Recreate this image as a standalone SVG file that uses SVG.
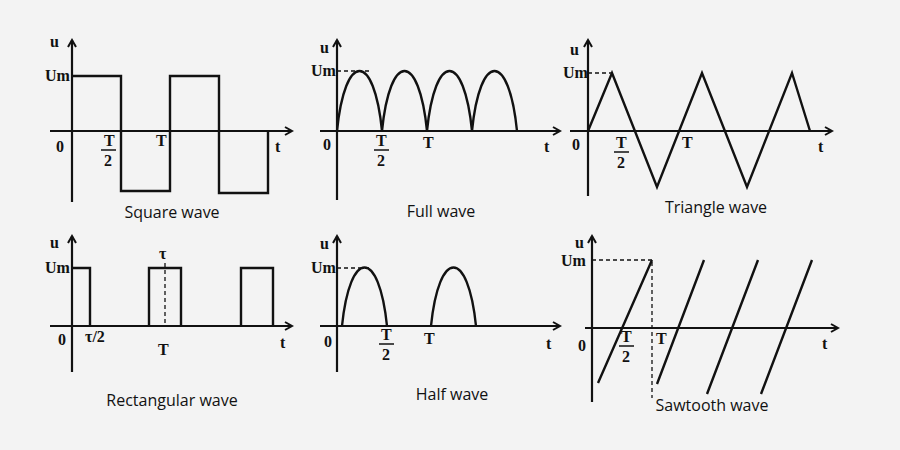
<svg xmlns="http://www.w3.org/2000/svg" width="900" height="450" viewBox="0 0 900 450">
<style>
.ax{stroke:#111;stroke-width:2.2;fill:none}
.w{stroke:#111;stroke-width:2.4;fill:none;stroke-linejoin:miter}
.d{stroke:#111;stroke-width:1.3;fill:none;stroke-dasharray:4 3}
.l{font-family:"Liberation Serif",serif;font-weight:bold;font-size:16px;fill:#111}
.c{font-family:"Open Sans","Noto Sans",sans-serif;font-size:16px;fill:#111;text-anchor:middle}
.fr{stroke:#111;stroke-width:1.5}
</style>
<defs><marker id="ar" markerWidth="10" markerHeight="10" refX="8" refY="5" orient="auto" markerUnits="userSpaceOnUse"><path d="M1,1 L8,5 L1,9" fill="none" stroke="#111" stroke-width="2"/></marker></defs>
<rect width="900" height="450" fill="#f3f3f3"/>
<g id="square">
<path class="ax" d="M72,202 V40" marker-end="url(#ar)"/><path class="ax" d="M50,131 H292" marker-end="url(#ar)"/>
<path class="w" d="M72,76 H121 V191 H170 V76 H219 V193 H268 V131"/>
<text class="l" x="50" y="47">u</text><text class="l" x="45" y="81">Um</text><text class="l" x="56" y="152">0</text>
<text class="l" x="104" y="146">T</text><line class="fr" x1="101" y1="150" x2="116" y2="150"/><text class="l" x="104" y="166">2</text>
<text class="l" x="156" y="146">T</text><text class="l" x="275" y="152">t</text>
<text class="c" x="172" y="218">Square wave</text>
</g>
<g id="full">
<path class="ax" d="M337,200 V40" marker-end="url(#ar)"/><path class="ax" d="M320,131 H560" marker-end="url(#ar)"/>
<path class="d" d="M337,71 H372"/>
<path class="w" d="M337,131 C345,51 374,51 382,131 C390,51 419,51 427,131 C435,51 464,51 472,131 C480,51 509,51 517,131"/>
<text class="l" x="320" y="53">u</text><text class="l" x="311" y="76">Um</text><text class="l" x="323" y="150">0</text>
<text class="l" x="376" y="146">T</text><line class="fr" x1="374" y1="150" x2="389" y2="150"/><text class="l" x="377" y="166">2</text>
<text class="l" x="423" y="148">T</text><text class="l" x="544" y="152">t</text>
<text class="c" x="441" y="217">Full wave</text>
</g>
<g id="triangle">
<path class="ax" d="M588,196 V40" marker-end="url(#ar)"/><path class="ax" d="M570,131 H832" marker-end="url(#ar)"/>
<path class="d" d="M588,73 H612"/>
<path class="w" d="M588,131 L612,73 L657,187 L702,73 L747,187 L792,73 L810,131"/>
<text class="l" x="570" y="55">u</text><text class="l" x="563" y="78">Um</text><text class="l" x="572" y="150">0</text>
<text class="l" x="616" y="148">T</text><line class="fr" x1="614" y1="152" x2="629" y2="152"/><text class="l" x="617" y="168">2</text>
<text class="l" x="682" y="148">T</text><text class="l" x="818" y="152">t</text>
<text class="c" x="716" y="213">Triangle wave</text>
</g>
<g id="rect">
<path class="ax" d="M72,372 V236" marker-end="url(#ar)"/><path class="ax" d="M50,326 H292" marker-end="url(#ar)"/>
<path class="w" d="M72,268 H90 V326 M149,326 V268 H181 V326 M241,326 V268 H273 V326"/>
<path class="d" d="M165,263 V326"/>
<text class="l" x="50" y="248">u</text><text class="l" x="45" y="273">Um</text><text class="l" x="58" y="345">0</text>
<text class="l" x="159" y="259">τ</text><text class="l" x="85" y="342">τ/2</text>
<text class="l" x="158" y="355">T</text><text class="l" x="280" y="348">t</text>
<text class="c" x="172" y="406">Rectangular wave</text>
</g>
<g id="half">
<path class="ax" d="M337,372 V236" marker-end="url(#ar)"/><path class="ax" d="M320,326 H560" marker-end="url(#ar)"/>
<path class="d" d="M337,268 H372"/>
<path class="w" d="M342,326 C350,248 379,248 387,326 M431,326 C439,248 468,248 476,326"/>
<text class="l" x="320" y="249">u</text><text class="l" x="311" y="273">Um</text><text class="l" x="324" y="347">0</text>
<text class="l" x="381" y="340">T</text><line class="fr" x1="379" y1="344" x2="394" y2="344"/><text class="l" x="382" y="360">2</text>
<text class="l" x="424" y="344">T</text><text class="l" x="546" y="349">t</text>
<text class="c" x="452" y="400">Half wave</text>
</g>
<g id="sawtooth">
<path class="ax" d="M592,402 V236" marker-end="url(#ar)"/><path class="ax" d="M585,328 H838" marker-end="url(#ar)"/>
<path class="d" d="M592,260 H652 M652,262 V398"/>
<path class="w" d="M598,383 L652,260 M657,384 L704,260 M707,394 L758,260 M761,394 L812,260"/>
<text class="l" x="575" y="248">u</text><text class="l" x="561" y="266">Um</text><text class="l" x="578" y="351">0</text>
<text class="l" x="621" y="342">T</text><line class="fr" x1="619" y1="346" x2="634" y2="346"/><text class="l" x="622" y="362">2</text>
<text class="l" x="656" y="344">T</text><text class="l" x="822" y="349">t</text>
<text class="c" x="712" y="411">Sawtooth wave</text>
</g>
</svg>
